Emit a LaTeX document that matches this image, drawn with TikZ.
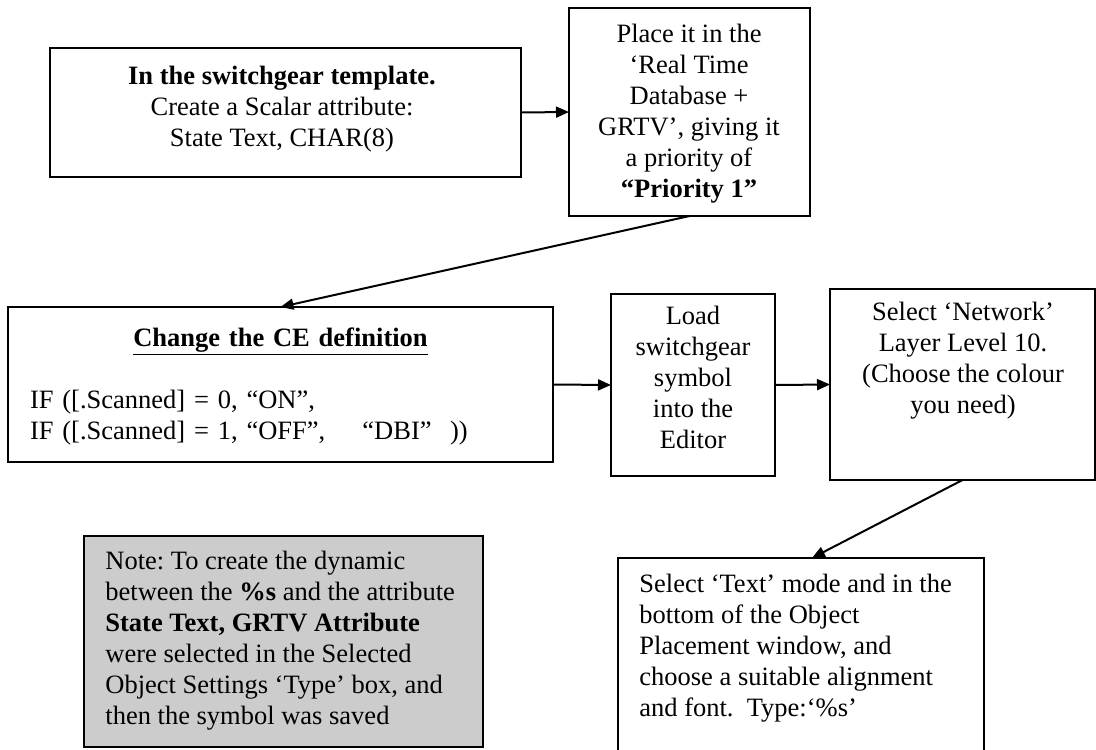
\documentclass[tikz,border=0pt]{standalone}
\usepackage{fontspec}
\setmainfont{Liberation Serif}
\usetikzlibrary{arrows.meta}
\frenchspacing
\begin{document}
\begin{tikzpicture}[x=0.5pt,y=-0.5pt,
  box/.style={draw, line width=1pt, inner sep=0pt, outer sep=0pt},
  txt/.style={inner sep=0pt, font=\fontsize{13.25pt}{15.5pt}\selectfont\frenchspacing, align=center},
  ltxt/.style={txt, align=left, anchor=west},
  arr/.style={line width=1pt, -{Triangle[length=6.5pt,width=5.5pt]}},
]
\useasboundingbox (0,0) rectangle (1096,749);
\clip (0,0) rectangle (1096,749);
\fill[white] (0,0) rectangle (1096,749);

% boxes
\node[box, minimum width=235.5pt, minimum height=64.5pt] (B1) at (285.5,112.5) {};
\node[box, minimum width=120.5pt, minimum height=104pt] (B2) at (689.5,112) {};
\node[box, minimum width=272.5pt, minimum height=77.5pt] (B3) at (280.5,384.5) {};
\node[box, minimum width=82pt, minimum height=91pt] (B4) at (693,385) {};
\node[box, minimum width=132.5pt, minimum height=95.5pt] (B5) at (962.5,384.5) {};
\node[box, minimum width=183pt, minimum height=121pt] (B6) at (801,679) {};
\node[box, fill=black!20, minimum width=199.5pt, minimum height=105.5pt] (N) at (283.5,641.5) {};

% texts
\node[txt] (T1) at (282,109) {\textbf{In the switchgear template.}\\Create a Scalar attribute:\\State Text, CHAR(8)};
\node[txt] (T2) at (689,114) {Place it in the\\‘Real Time\\Database +\\GRTV’, giving it\\a priority of\\\textbf{“Priority 1”}};
\node[txt, align=left, text width=250.5pt] (T3) at (280.5,386) {\makebox[\linewidth][c]{\textbf{\underline{Change the CE definition}}}\\[15.5pt]
IF ([.Scanned] = 0, “ON”,\\
IF ([.Scanned] = 1, “OFF”,\hspace{1.4em}“DBI”\hspace{0.7em}))};
\node[txt] (T4) at (693,377) {Load\\switchgear\\symbol\\into the\\Editor};
\node[txt] (T5) at (963,361) {Select ‘Network’\\Layer Level 10.\\(Choose the colour\\you need)};
\node[ltxt] (T6) at (639,648) {Select ‘Text’ mode and in the\\bottom of the Object\\Placement window, and\\choose a suitable alignment\\and font.\ \ Type:‘\%s’};
\node[ltxt] (TN) at (105,641) {Note: To create the dynamic\\between the \textbf{\%s} and the attribute\\\textbf{State Text, GRTV Attribute}\\were selected in the Selected\\Object Settings ‘Type’ box, and\\then the symbol was saved};

% connectors
\draw[arr] (B1.east) -- (B2.west);
\draw[arr] (B2.south) -- (B3.north);
\draw[arr] (B3.east) -- (B4.west);
\draw[arr] (B4.east) -- (B5.west);
\draw[arr] (B5.south) -- ([xshift=5.5pt]B6.north);
\end{tikzpicture}
\end{document}
